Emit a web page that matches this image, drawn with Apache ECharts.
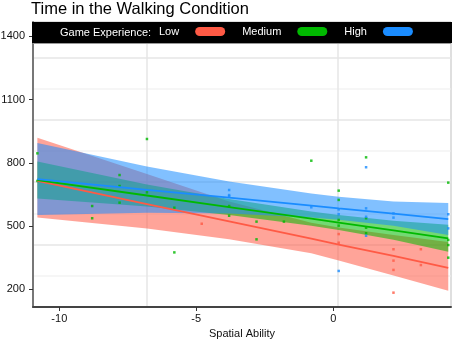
<!DOCTYPE html>
<html>
<head>
<meta charset="utf-8">
<script src="https://cdn.jsdelivr.net/npm/echarts@6/dist/echarts.min.js"></script>
<style>
html, body { margin: 0; padding: 0; background: #fff; }
#main { width: 454px; height: 341px; }
</style>
</head>
<body>
<div id="main"></div>
<script>
var groups = ['Low', 'Medium', 'High'];
var colors = ['#ff5a45', '#00b900', '#1a8cff'];

// spatial ability positions where the fitted lines and bands were read
var fitX = [-10.8, -6.8, -3.8, -0.8, 0.2, 2.2, 4.2];
var lowFit = [714, 604, 522, 440, 412, 358, 302];
var lowUpper = [919, 747, 617, 516, 493, 458, 424];
var lowLower = [541, 488, 437, 371, 337, 265, 193];
var medFit = [718, 645, 590, 535, 516, 480, 442];
var medUpper = [806, 697, 628, 569, 552, 525, 506];
var medLower = [631, 593, 552, 502, 481, 435, 378];
var highFit = [723, 672, 635, 597, 584, 559, 533];
var highUpper = [894, 782, 711, 654, 639, 616, 609];
var highLower = [552, 563, 559, 540, 530, 502, 458];

// observations [spatial ability, time]
var lowPoints = [[-4.8, 511], [0.2, 462], [0.2, 421], [2.2, 390], [2.2, 336], [2.2, 292], [2.2, 184],
  [3.2, 390], [3.2, 315]];
var medPoints = [[-10.8, 845], [-10.8, 714], [-8.8, 595], [-8.8, 537], [-7.8, 742], [-7.8, 690], [-7.8, 611],
  [-6.8, 913], [-6.8, 660], [-5.8, 587], [-5.8, 375], [-3.8, 595], [-3.8, 549], [-2.8, 521], [-2.8, 437],
  [-1.8, 521], [-0.8, 810], [0.2, 668], [0.2, 624], [0.2, 529], [0.2, 502], [1.2, 826], [1.2, 537],
  [1.2, 492], [1.2, 466], [4.2, 706], [4.2, 434], [4.2, 410], [4.2, 350]];
var highPoints = [[-3.8, 671], [-3.8, 647], [-3.8, 641], [-0.8, 589], [0.2, 579], [0.2, 556], [0.2, 287],
  [1.2, 779], [1.2, 584], [1.2, 544], [1.2, 454], [2.2, 560], [2.2, 540], [4.2, 556], [4.2, 489]];

var xTicks = [-10, -5, 0];
var yTicks = [200, 500, 800, 1100, 1400];

var font = 'Liberation Sans';
var chart = echarts.init(document.getElementById('main'), null, {renderer: 'canvas'});

function pairs(xs, ys) {
  return xs.map(function (x, i) { return [x, ys[i]]; });
}

// confidence band drawn as one polygon through the axis scales
function bandSeries(name, color, lower, upper) {
  return {
    name: name + ' band', type: 'custom', silent: true,
    data: fitX.map(function (x, i) { return [x, lower[i], upper[i]]; }),
    encode: {x: 0, y: [1, 2]},
    renderItem: function (params, api) {
      if (params.dataIndex !== 0) return null;
      var top = fitX.map(function (x, i) { return api.coord([x, upper[i]]); });
      var bottom = fitX.map(function (x, i) { return api.coord([x, lower[i]]); }).reverse();
      return {
        type: 'polygon',
        shape: {points: top.concat(bottom)},
        style: {fill: color, opacity: 0.55}
      };
    }
  };
}

function groupSeries(name, color, lower, upper, fit, points) {
  return [
    bandSeries(name, color, lower, upper),
    {
      name: name, type: 'line', symbol: 'none', silent: true,
      data: pairs(fitX, fit), itemStyle: {color: color}, lineStyle: {color: color, width: 1.8}
    },
    {
      name: name + ' points', type: 'scatter', symbol: 'rect', symbolSize: 2.5, silent: true,
      data: points, itemStyle: {color: color}
    }
  ];
}

var series = []
  .concat(groupSeries('Low', colors[0], lowLower, lowUpper, lowFit, lowPoints))
  .concat(groupSeries('Medium', colors[1], medLower, medUpper, medFit, medPoints))
  .concat(groupSeries('High', colors[2], highLower, highUpper, highFit, highPoints));

var option = {
  animation: false,
  backgroundColor: '#fff',
  title: {
    text: 'Time in the Walking Condition', left: 31, top: 1, padding: 0,
    textStyle: {fontSize: 16.5, fontWeight: 'normal', color: '#000', fontFamily: font}
  },
  legend: {
    data: groups.map(function (g) {
      return {name: g, icon: 'path://M4.5,0 H25.5 A4.5,4.5 0 0 1 25.5,9 H4.5 A4.5,4.5 0 0 1 4.5,0 Z'};
    }),
    left: 159, top: 26, itemWidth: 30, itemHeight: 9, itemGap: 17, align: 'right',
    selectedMode: false, z: 100, padding: 0,
    textStyle: {color: '#fff', fontSize: 11, fontFamily: font, padding: [0, 11, 0, 0]}
  },
  graphic: [
    {type: 'rect', z: 50, shape: {x: 32, y: 22, width: 420, height: 21}, style: {fill: '#000'}},
    {type: 'line', z: 50, shape: {x1: 33, y1: 43.5, x2: 451, y2: 43.5}, style: {stroke: '#999', lineWidth: 1}},
    {type: 'text', z: 51, x: 60, y: 33,
      style: {text: 'Game Experience:', fill: '#fff', font: '11px ' + font, verticalAlign: 'middle'}}
  ],
  grid: {
    left: 33, top: 22, width: 418, height: 285, containLabel: false, outerBoundsMode: 'none',
    show: true, backgroundColor: '#fff', borderColor: '#999', borderWidth: 1
  },
  xAxis: [{
    type: 'value', position: 'bottom', min: -10.96, max: 4.3,
    axisLine: {show: true, onZero: false, lineStyle: {color: '#444', width: 2}},
    axisTick: {show: true, length: 4, customValues: xTicks, lineStyle: {color: '#333'}},
    axisLabel: {customValues: xTicks, margin: 6, color: '#111', fontSize: 11, fontFamily: font},
    splitLine: {show: false},
    name: 'Spatial Ability', nameLocation: 'middle', nameGap: 20,
    nameTextStyle: {color: '#111', fontSize: 11, fontFamily: font}
  }, {
    type: 'value', position: 'bottom', min: 2.016, max: 12.958, splitNumber: 2,
    axisLine: {show: false}, axisTick: {show: false}, axisLabel: {show: false},
    splitLine: {show: true, lineStyle: {color: '#e6e6e6', width: 1.5}}
  }],
  yAxis: [{
    type: 'value', position: 'left', min: 116, max: 1468,
    axisLine: {show: true, onZero: false, lineStyle: {color: '#777', width: 2}},
    axisTick: {show: true, length: 4, customValues: yTicks, lineStyle: {color: '#333'}},
    axisLabel: {
      customValues: yTicks, margin: 8, color: '#111', fontSize: 11, fontFamily: font,
      formatter: function (v) { return String(v); }
    },
    splitLine: {show: false}
  }, {
    type: 'value', position: 'left', min: -4.6, max: 280.4, interval: 31.2,
    axisLine: {show: false}, axisTick: {show: false}, axisLabel: {show: false},
    splitLine: {show: true, lineStyle: {color: ['#e6e6e6', '#f3f3f3'], width: 1.5}}
  }],
  series: series
};

chart.setOption(option);
</script>
</body>
</html>
